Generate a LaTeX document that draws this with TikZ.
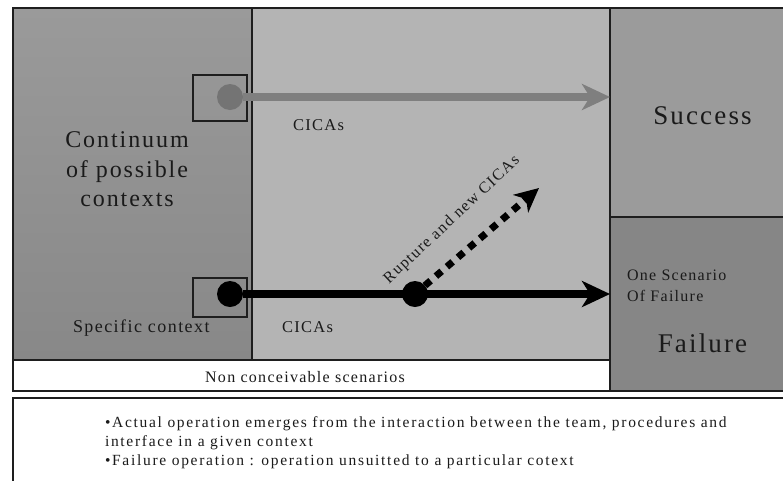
\documentclass[tikz,border=0pt]{standalone}
\usepackage{fontspec}
\setmainfont{Liberation Serif}[LetterSpace=8]
\newfontfamily\notesfont{Liberation Serif}[LetterSpace=11]
\usetikzlibrary{arrows.meta}
\definecolor{frame}{HTML}{1E1E1E}
\definecolor{leftTop}{HTML}{9A9A9A}
\definecolor{leftBot}{HTML}{888888}
\definecolor{midGray}{HTML}{B4B4B4}
\definecolor{succGray}{HTML}{9B9B9B}
\definecolor{failGray}{HTML}{868686}
\definecolor{arrowGray}{HTML}{7F7F7F}
\definecolor{dotGray}{HTML}{747474}
\definecolor{ink}{HTML}{1A1A1A}
\newcommand{\fs}[2]{\fontsize{#1}{#2}\selectfont}
\begin{document}
\begin{tikzpicture}[x=1pt,y=-1pt,
  panel/.style={draw=frame, line width=1.3pt, inner sep=0pt, outer sep=0pt, anchor=north west},
  ctxbox/.style={draw=frame, line width=1.3pt, inner sep=0pt, outer sep=0pt},
  txt/.style={inner sep=0pt, outer sep=0pt, text=ink},
  note/.style={txt, anchor=base west, font=\notesfont\fs{15.5}{18}},
  bigdot/.style={circle, inner sep=0pt, outer sep=0pt, minimum size=26pt},
  head/.style={-{Stealth[length=28pt,width=26pt,inset=8pt]}},
  garrow/.style={draw=arrowGray, line width=8pt, head},
  barrow/.style={draw=black, line width=8pt, head},
  darrow/.style={draw=black, line width=7pt, dash pattern=on 7.5pt off 7pt,
     -{Stealth[length=24pt,width=23pt,inset=7pt]}}
]
\useasboundingbox (0,0) rectangle (783,480);
\fill[white] (0,0) rectangle (783,480);
% panels
\node[panel, minimum width=239pt, minimum height=352pt, top color=leftTop, bottom color=leftBot] (left) at (13,8) {};
\node[panel, minimum width=358pt, minimum height=352pt, fill=midGray] (mid) at (252,8) {};
\node[panel, minimum width=597pt, minimum height=31pt, fill=white] (strip) at (13,360) {};
\node[panel, minimum width=180pt, minimum height=209pt, fill=succGray] (success) at (610,8) {};
\node[panel, minimum width=180pt, minimum height=174pt, fill=failGray] (failure) at (610,217) {};
\node[draw=frame, line width=2pt, inner sep=0pt, outer sep=0pt, anchor=north west,
      minimum width=777pt, minimum height=383pt] (outer) at (13,8) {};
\node[draw=frame, line width=1.6pt, inner sep=0pt, outer sep=0pt, anchor=north west,
      minimum width=777pt, minimum height=100pt, fill=white] (notes) at (13,398) {};
% context squares
\node[ctxbox, minimum width=54pt, minimum height=46pt] (sqA) at (220,98) {};
\node[ctxbox, minimum width=54pt, minimum height=39pt] (sqB) at (220,297.5) {};
% dots
\node[bigdot, fill=dotGray, minimum width=26pt, minimum height=24pt] (dotA) at (230,97) {};
\node[bigdot, fill=black] (dotB) at (230,294) {};
\node[bigdot, fill=black] (dotC) at (415,294) {};
\coordinate (rtip) at (539,188);
% connectors
\draw[garrow] (dotA) -- (dotA -| success.west);
\draw[barrow] (dotB) -- (dotB -| failure.west);
\draw[darrow] (dotC) -- (rtip);
% texts
\node[txt, align=center, font=\fs{24}{29.5}] (cont) at (127,169.5) {Continuum\\of possible\\contexts};
\node[txt, anchor=base west, font=\fs{18}{20}] (spec) at (73,332) {Specific context};
\node[txt, anchor=base west, font=\fs{16.5}{19}] (cicaA) at (293,130.5) {CICAs};
\node[txt, anchor=base west, font=\fs{16.5}{19}] (cicaB) at (282,332) {CICAs};
\node[txt, anchor=base west, rotate=43, font=\fs{16}{18}] (rupt) at (389,284) {Rupture and new CICAs};
\node[txt, anchor=base, font=\fs{27}{30}] (succT) at (702.5,124) {Success};
\node[txt, anchor=base, font=\fs{27}{30}] (failT) at (702.5,352) {Failure};
\node[txt, anchor=west, align=left, font=\fs{16}{21}] (scen) at (627,286) {One Scenario\\Of Failure};
\node[txt, anchor=base, font=\fs{16}{19}] (noncon) at (305,382) {Non conceivable scenarios};
\node[note] (n1) at (105,427) {•Actual operation emerges from the interaction between the team, procedures and};
\node[note] (n2) at (105,446) {interface in a given context};
\node[note] (n3) at (105,465) {•Failure operation : operation unsuitted to a particular cotext};
\end{tikzpicture}
\end{document}
